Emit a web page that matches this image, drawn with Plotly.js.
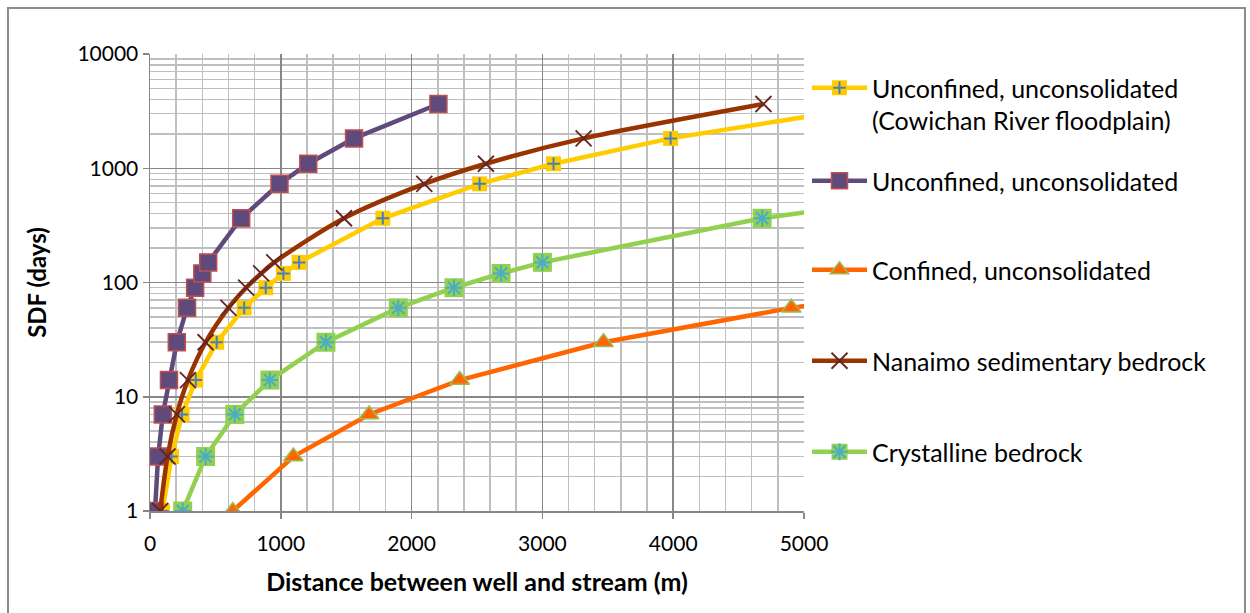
<!DOCTYPE html>
<html>
<head>
<meta charset="utf-8">
<script src="https://cdn.plot.ly/plotly-3.0.1.min.js"></script>
<style>
html,body{margin:0;padding:0;background:#fff;}
#wrap{position:relative;width:1250px;height:613px;}
#chart{width:1250px;height:613px;}
#frame{position:absolute;left:7px;top:7px;width:1239px;height:620px;border:2px solid #8c8c8c;pointer-events:none;box-sizing:border-box;}
</style>
</head>
<body>
<div id="wrap"><div id="chart"></div><div id="frame"></div></div>
<script>
// SDF values (days) shared by the series
const sdfAll = [1, 3, 7, 14, 30, 60, 90, 120, 150, 365, 730, 1095, 1825, 3650];
const sdfGreen = [1, 3, 7, 14, 30, 60, 90, 120, 150, 365, 730];
const sdfOrange = [1, 3, 7, 14, 30, 60, 90];

// Distances (m)
const distCowichan = [95, 165, 245, 350, 510, 720, 885, 1020, 1140, 1780, 2520, 3085, 3980, 5630];
const distUnconfined = [38, 62, 98, 145, 205, 283, 345, 400, 445, 697, 990, 1210, 1560, 2205];
const distConfined = [633, 1096, 1675, 2368, 3467, 4903, 6005];
const distNanaimo = [78, 134, 205, 290, 425, 600, 735, 850, 950, 1483, 2097, 2568, 3315, 4690];
const distCrystalline = [250, 425, 648, 917, 1345, 1898, 2324, 2684, 3000, 4680, 6620];

const names = [
  'Unconfined, unconsolidated<br>(Cowichan River floodplain)',
  'Unconfined, unconsolidated',
  'Confined, unconsolidated',
  'Nanaimo sedimentary bedrock',
  'Crystalline bedrock'
];
const xTickVals = [0, 1000, 2000, 3000, 4000, 5000];
const yTickVals = [1, 10, 100, 1000, 10000];

const FONT = 'Lato, "Open Sans", sans-serif';
const LW = 4.5;

const traces = [
  {x: distCowichan, y: sdfAll, name: names[0], mode: 'lines+markers', legend: 'legend',
   line: {color: '#FFCC00', width: LW},
   marker: {symbol: 'square', size: 15, color: '#FFCC00', line: {width: 0}}},
  {x: distCowichan, y: sdfAll, name: names[0], mode: 'markers', legend: 'legend6',
   marker: {symbol: 'cross-thin-open', size: 9, color: '#4A7EBB', line: {width: 2, color: '#4A7EBB'}}},
  {x: distUnconfined, y: sdfAll, name: names[1], mode: 'lines+markers', legend: 'legend2',
   line: {color: '#604A7B', width: LW},
   marker: {symbol: 'square', size: 17, color: '#604A7B', line: {width: 1.5, color: '#C0504D'}}},
  {x: distConfined, y: sdfOrange, name: names[2], mode: 'lines+markers', legend: 'legend3',
   line: {color: '#FF6600', width: LW},
   marker: {symbol: 'triangle-up', size: 17, color: '#FF6600', line: {width: 1.5, color: '#9BBB59'}}},
  {x: distNanaimo, y: sdfAll, name: names[3], mode: 'lines+markers', legend: 'legend4',
   line: {color: '#993300', width: LW, shape: 'spline', smoothing: 0.8},
   marker: {symbol: 'x-thin-open', size: 16, color: '#632523', line: {width: 1.8, color: '#632523'}}},
  {x: distCrystalline, y: sdfGreen, name: names[4], mode: 'lines+markers', legend: 'legend5',
   line: {color: '#92D050', width: LW},
   marker: {symbol: 'square', size: 19, color: '#92D050', line: {width: 0}}},
  {x: distCrystalline, y: sdfGreen, name: names[4], mode: 'markers', legend: 'legend7',
   marker: {symbol: 'asterisk-open', size: 14, color: '#4BACC6', line: {width: 2, color: '#4BACC6'}}}
];

const L = 150, R = 804, T = 54, B = 511;
const px = v => (v - L) / (R - L);
const py = v => (B - v) / (B - T);

function leg(xp, yp, transparent) {
  return {x: px(xp), y: py(yp), xanchor: 'left', yanchor: 'middle', valign: 'top',
          itemwidth: 55,
          bgcolor: 'rgba(0,0,0,0)', borderwidth: 0,
          font: {family: FONT, size: 25, color: transparent ? 'rgba(0,0,0,0)' : '#000'}};
}

const layout = {
  width: 1250, height: 613,
  margin: {l: L, r: 1250 - R, t: T, b: 613 - B, pad: 0},
  paper_bgcolor: '#fff', plot_bgcolor: '#fff',
  font: {family: FONT, size: 21, color: '#000'},
  showlegend: true,
  xaxis: {
    range: [0, 5000], tickvals: xTickVals, ticktext: xTickVals.map(String),
    showgrid: true, gridcolor: '#878787', gridwidth: 1.5,
    minor: {dtick: 200, tick0: 0, showgrid: true, gridcolor: '#BFBFBF', gridwidth: 1.5, ticks: ''},
    ticks: 'outside', ticklen: 6, tickwidth: 1.5, tickcolor: '#878787',
    showline: true, linecolor: '#878787', linewidth: 1.5, zeroline: false,
    ticklabelstandoff: 7, tickfont: {family: FONT, size: 21, color: '#000'},
    title: {text: 'Distance between well and stream (m)', standoff: 20,
            font: {family: FONT, size: 25, color: '#000', weight: 'bold'}}
  },
  yaxis: {
    type: 'log', range: [0, 4], tickvals: yTickVals, ticktext: yTickVals.map(String),
    showgrid: true, gridcolor: '#878787', gridwidth: 1.5,
    minor: {dtick: 'D1', showgrid: true, gridcolor: '#BFBFBF', gridwidth: 1.5, ticks: ''},
    ticks: 'outside', ticklen: 6, tickwidth: 1.5, tickcolor: '#878787',
    showline: true, linecolor: '#878787', linewidth: 1.5, zeroline: false,
    tickfont: {family: FONT, size: 21, color: '#000'},
    title: {text: 'SDF (days)', standoff: 24,
            font: {family: FONT, size: 24, color: '#000', weight: 'bold'}}
  },
  legend: leg(807, 104, false),
  legend2: leg(807, 181, false),
  legend3: leg(807, 270, false),
  legend4: leg(807, 361, false),
  legend5: leg(807, 452, false),
  legend6: leg(807, 104, true),
  legend7: leg(807, 452, true)
};

Plotly.newPlot('chart', traces, layout, {displayModeBar: false, staticPlot: true});
</script>
</body>
</html>
